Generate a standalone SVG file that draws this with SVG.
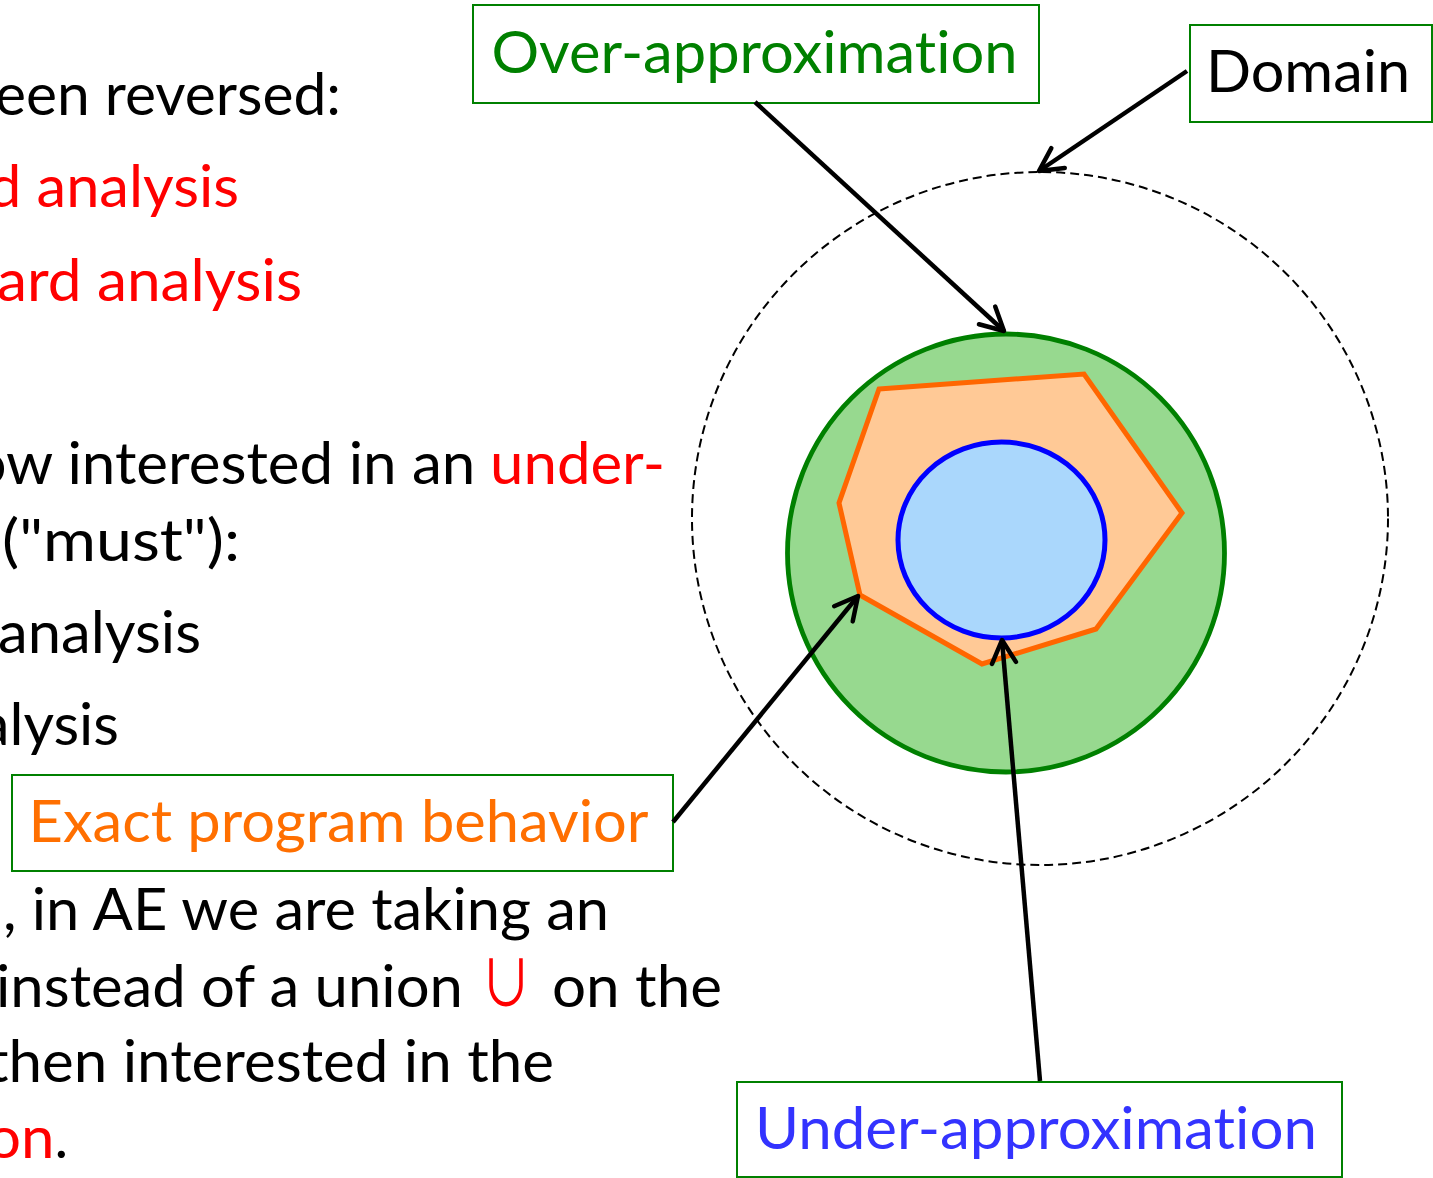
<svg xmlns="http://www.w3.org/2000/svg" width="1433" height="1178" viewBox="0 0 1433 1178">
  <style>
    .t { font-family: Lato, "Liberation Sans", sans-serif; font-size: 58px; font-variant-ligatures: none; }
    .blk { fill: #000000; }
    .red { fill: #ff0000; }
    .box { fill: #ffffff; stroke: #008000; stroke-width: 2; }
    .conn { fill: none; stroke: #000000; stroke-width: 4.5; marker-end: url(#head); }
  </style>
  <defs>
    <marker id="head" markerUnits="userSpaceOnUse" viewBox="-30 -16 34 32" markerWidth="34" markerHeight="32" refX="0" refY="0" orient="auto" overflow="visible">
      <path d="M -23 -12 L 0 0 L -23 12" fill="none" stroke="#000000" stroke-width="4.5" stroke-linecap="round" stroke-linejoin="round"/>
    </marker>
  </defs>

  <rect width="1433" height="1178" fill="#ffffff"/>

  <!-- slide body text, running off the left edge -->
  <g id="slide-text" class="t">
    <text class="blk" x="-5" y="115" textLength="346" lengthAdjust="spacingAndGlyphs">een reversed:</text>
    <text class="red" x="-12" y="207" textLength="251" lengthAdjust="spacingAndGlyphs">d analysis</text>
    <text class="red" x="-3" y="301" textLength="305" lengthAdjust="spacingAndGlyphs">ard analysis</text>
    <text class="blk" x="-27.6" y="484" textLength="503" lengthAdjust="spacingAndGlyphs">ow interested in an</text>
    <text class="red" x="490" y="484" textLength="175" lengthAdjust="spacingAndGlyphs">under-</text>
    <text class="blk" x="2" y="561" textLength="238" lengthAdjust="spacingAndGlyphs">("must"):</text>
    <text class="blk" x="-2" y="653" textLength="203" lengthAdjust="spacingAndGlyphs">analysis</text>
    <text class="blk" x="-20" y="745" textLength="139" lengthAdjust="spacingAndGlyphs">alysis</text>
    <text class="blk" x="3" y="930" textLength="606" lengthAdjust="spacingAndGlyphs">, in AE we are taking an</text>
    <text class="blk" x="-4" y="1007" textLength="467" lengthAdjust="spacingAndGlyphs">instead of a union</text>
    <text x="480" y="1006" fill="#ff0000" font-family="'Noto Sans CJK SC', 'DejaVu Sans', sans-serif" font-size="64" font-weight="400" textLength="52" lengthAdjust="spacingAndGlyphs">∪</text>
    <text class="blk" x="552" y="1007" textLength="170" lengthAdjust="spacingAndGlyphs">on the</text>
    <text class="blk" x="-13" y="1082" textLength="567" lengthAdjust="spacingAndGlyphs">then interested in the</text>
    <text class="red" x="-13" y="1158" textLength="67.5" lengthAdjust="spacingAndGlyphs">on</text>
    <text class="blk" x="54.5" y="1158">.</text>
  </g>

  <!-- nested sets -->
  <g id="domain-set">
    <ellipse cx="1040" cy="518.5" rx="348" ry="346.5" fill="none" stroke="#000000" stroke-width="2" stroke-dasharray="9 5"/>
  </g>
  <g id="over-set">
    <ellipse cx="1006" cy="553" rx="218.5" ry="219" fill="#97d98f" stroke="#008000" stroke-width="4.8"/>
  </g>
  <g id="exact-set">
    <polygon points="879,389 1084,374 1182,513 1096,629 982,664 860,595 839,503" fill="#ffc996" stroke="#ff6600" stroke-width="5" stroke-linejoin="miter"/>
  </g>
  <g id="under-set">
    <ellipse cx="1001.5" cy="540" rx="103.5" ry="98" fill="#aad7fc" stroke="#0000ff" stroke-width="5"/>
  </g>

  <!-- labels -->
  <g id="label-over">
    <rect class="box" x="473" y="5" width="566" height="98"/>
    <text class="t" x="491.5" y="73" fill="#008000" textLength="526" lengthAdjust="spacingAndGlyphs">Over-approximation</text>
  </g>
  <g id="label-domain">
    <rect class="box" x="1190" y="25" width="242" height="97"/>
    <text class="t blk" x="1206" y="92" textLength="204" lengthAdjust="spacingAndGlyphs">Domain</text>
  </g>
  <g id="label-exact">
    <rect class="box" x="12" y="775" width="661" height="96"/>
    <text class="t" x="28.5" y="842" fill="#ff6f00" textLength="620" lengthAdjust="spacingAndGlyphs">Exact program behavior</text>
  </g>
  <g id="label-under">
    <rect class="box" x="737" y="1082" width="605" height="95"/>
    <text class="t" x="755" y="1149" fill="#3333ff" textLength="562" lengthAdjust="spacingAndGlyphs">Under-approximation</text>
  </g>

  <!-- connectors -->
  <g id="connectors">
    <line class="conn" x1="755" y1="102" x2="1004" y2="331"/>
    <line class="conn" x1="1187" y1="71" x2="1039" y2="171"/>
    <line class="conn" x1="673" y1="822" x2="858" y2="596"/>
    <line class="conn" x1="1040" y1="1081" x2="1002" y2="640"/>
  </g>
</svg>
